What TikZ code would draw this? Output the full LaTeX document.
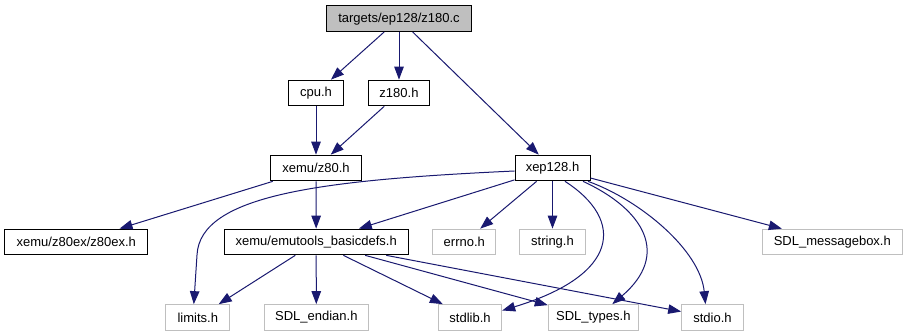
\documentclass[tikz,border=0pt]{standalone}
\usepackage{fontspec}
\setmainfont{Liberation Sans}
\usetikzlibrary{arrows.meta}
\definecolor{edgeblue}{HTML}{191970}
\definecolor{extgray}{HTML}{BFBFBF}
\begin{document}
\begin{tikzpicture}[x=1pt,y=-1pt,
  font=\fontsize{13}{15}\selectfont,
  box/.style={draw=black,line width=1pt,fill=white,inner sep=0pt,minimum height=25.7pt,minimum width=#1},
  extbox/.style={draw=extgray,line width=1pt,fill=white,inner sep=0pt,minimum height=25.7pt,minimum width=#1},
  rootbox/.style={box=#1,fill=extgray},
  dep/.style={draw=edgeblue,line width=1pt,-{Triangle[length=13pt,width=9.5pt]}}]
\useasboundingbox[fill=white] (0,0) rectangle (908,336);

% nodes
\node[rootbox=144.6pt] (root) at (399,18.7) {targets/ep128/z180.c};
\node[box=54.3pt] (cpu) at (316,93) {cpu.h};
\node[box=61.7pt] (z180h) at (399,93) {z180.h};
\node[box=90.7pt] (z80) at (316,168) {xemu/z80.h};
\node[box=75pt] (xep) at (552.5,168) {xep128.h};
\node[box=142.7pt] (z80ex) at (76.3,242) {xemu/z80ex/z80ex.h};
\node[box=184.3pt] (basic) at (316.2,242) {xemu/emutools\_basicdefs.h};
\node[extbox=63.3pt] (errno) at (464.3,242) {errno.h};
\node[extbox=66.4pt] (string) at (552.5,242) {string.h};
\node[extbox=140pt] (msgbox) at (832.3,242) {SDL\_messagebox.h};
\node[extbox=64.3pt] (limits) at (197.8,317.5) {limits.h};
\node[extbox=104pt] (endian) at (316.3,317.5) {SDL\_endian.h};
\node[extbox=63.4pt] (stdlib) at (470,317.5) {stdlib.h};
\node[extbox=90pt] (types) at (593.3,317.5) {SDL\_types.h};
\node[extbox=61.6pt] (stdio) at (712.5,317.5) {stdio.h};

% straight dependencies
\draw[dep] (root) -- (cpu);
\draw[dep] (root) -- (z180h);
\draw[dep] (root) -- (xep);
\draw[dep] (cpu) -- (z80);
\draw[dep] (z180h) -- (z80);
\draw[dep] (z80) -- (z80ex);
\draw[dep] (z80) -- (basic);
\draw[dep] (xep) -- (basic);
\draw[dep] (xep) -- (errno);
\draw[dep] (xep) -- (string);
\draw[dep] (xep) -- (msgbox);
\draw[dep] (basic) -- (limits);
\draw[dep] (basic) -- (endian);
\draw[dep] (basic) -- (stdlib);
\draw[dep] (basic) -- (types);
\draw[dep] (basic) -- (stdio);

% curved dependencies from xep128.h
\draw[dep] ([yshift=-3pt]xep.west) .. controls (320,180) and (200,195) .. (197,255) -- ([xshift=-4pt]limits.north);
\draw[dep] ([xshift=12.5pt]xep.south) .. controls (625,220) and (620,275) .. ([yshift=7pt]stdlib.east);
\draw[dep] ([xshift=30.5pt]xep.south) .. controls (645,210) and (670,255) .. ([xshift=19pt]types.north);
\draw[dep] ([xshift=35.5pt]xep.south) .. controls (640,200) and (700,250) .. ([xshift=-7pt]stdio.north);
\end{tikzpicture}
\end{document}
